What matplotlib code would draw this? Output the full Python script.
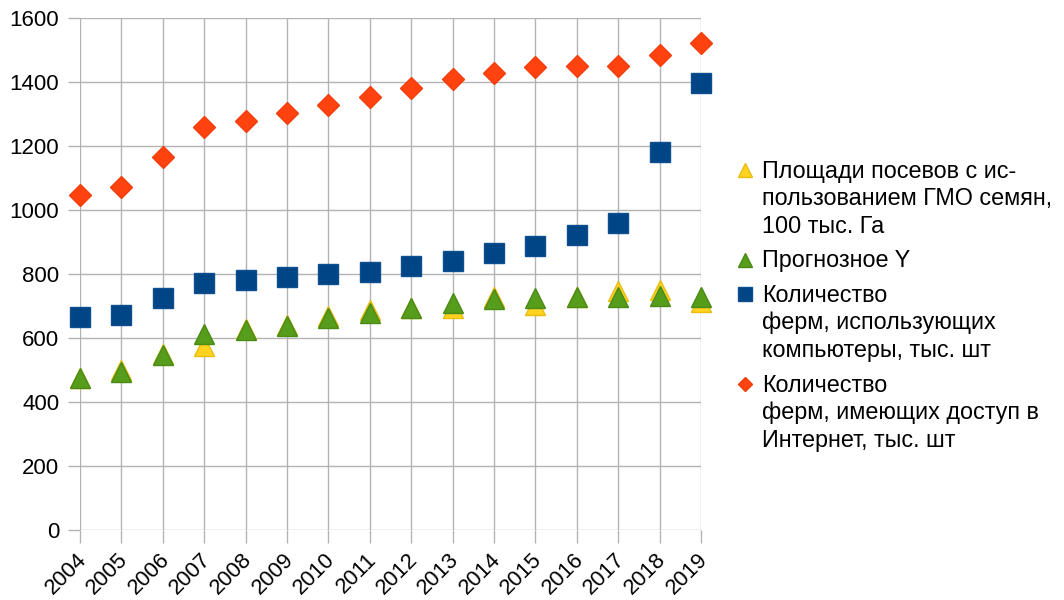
import matplotlib
matplotlib.use("Agg")
import matplotlib.pyplot as plt
import matplotlib.transforms as mtransforms
from matplotlib.ticker import MultipleLocator
from matplotlib.lines import Line2D

plt.rcParams['font.family'] = ['Liberation Sans', 'DejaVu Sans']

years = list(range(2004, 2020))
gmo_area = [475, 500, 550, 576, 628, 640, 669, 689, 693, 694, 728, 702, 729, 748, 749, 713]
forecast_y = [475, 493, 547, 612, 625, 637, 662, 677, 693, 708, 721, 726, 729, 729, 731, 729]
farms_computers = [666, 672, 725, 772, 781, 790, 800, 806, 825, 841, 865, 888, 922, 959, 1181, 1397]
farms_internet = [1047, 1072, 1165, 1259, 1278, 1303, 1328, 1353, 1381, 1409, 1428, 1447, 1450, 1450, 1484, 1522]

labels = [
    "Площади посевов с ис-\nпользованием ГМО семян,\n100 тыс. Га",
    "Прогнозное Y",
    "Количество\nферм, использующих\nкомпьютеры, тыс. шт",
    "Количество\nферм, имеющих доступ в\nИнтернет, тыс. шт",
]
colors = ['#ffd320', '#579d1c', '#004586', '#ff420e']
edges = ['#e8bd10', '#4a8a15', '#0d4f8f', '#f04010']
markers = ['^', '^', 's', 'D']
msizes = [15, 15, 14, 11]
leg_msizes = [10.5, 10.5, 10, 7.5]

FS_LEG = 16.8
FS_Y = 16
FS_X = 15.8
W, H = 1064, 600
fig = plt.figure(figsize=(W / 100, H / 100), dpi=100)
ax = fig.add_axes([80 / W, 70 / H, 621 / W, 512 / H])

series = [gmo_area, forecast_y, farms_computers, farms_internet]
for i, vals in enumerate(series):
    ax.plot(years, vals, linestyle='none', marker=markers[i], markersize=msizes[i],
            color=colors[i], markeredgecolor=edges[i], zorder=3 + i, clip_on=False)

ax.set_xlim(2004, 2019)
ax.set_ylim(0, 1600)
ax.yaxis.set_major_locator(MultipleLocator(200))
ax.set_xticks(years)
ax.set_xticklabels([str(y) for y in years], rotation=45, ha='right', va='top',
                   rotation_mode='anchor')
ax.grid(True, color='#b3b3b3', linewidth=1)
ax.set_axisbelow(True)
for s in ax.spines.values():
    s.set_visible(False)
ax.tick_params(axis='both', colors='#b3b3b3', labelcolor='black', length=9, width=1)
ax.tick_params(axis='x', pad=5, labelsize=FS_X)
ax.tick_params(axis='y', pad=6, labelsize=FS_Y)

shift = mtransforms.ScaledTranslation(-4 / 100, 0, fig.dpi_scale_trans)
for lbl in ax.get_xticklabels():
    lbl.set_transform(lbl.get_transform() + shift)

# manual legend: marker aligned with the first line of each entry
line_px = 27.5
gap_px = 34.5
baseline = 178.0  # baseline of first line, pixels from top
for i, lab in enumerate(labels):
    fig.add_artist(Line2D([745 / W], [1 - (baseline - 8) / H], transform=fig.transFigure,
                          linestyle='none', marker=markers[i], markersize=leg_msizes[i],
                          color=colors[i], markeredgecolor=edges[i]))
    lines = lab.split('\n')
    for j, ln in enumerate(lines):
        fig.text(762 / W, 1 - (baseline + j * line_px) / H, ln, fontsize=FS_LEG,
                 va='baseline', ha='left')
    baseline += (len(lines) - 1) * line_px + gap_px

fig.savefig('out.png', dpi=100)
